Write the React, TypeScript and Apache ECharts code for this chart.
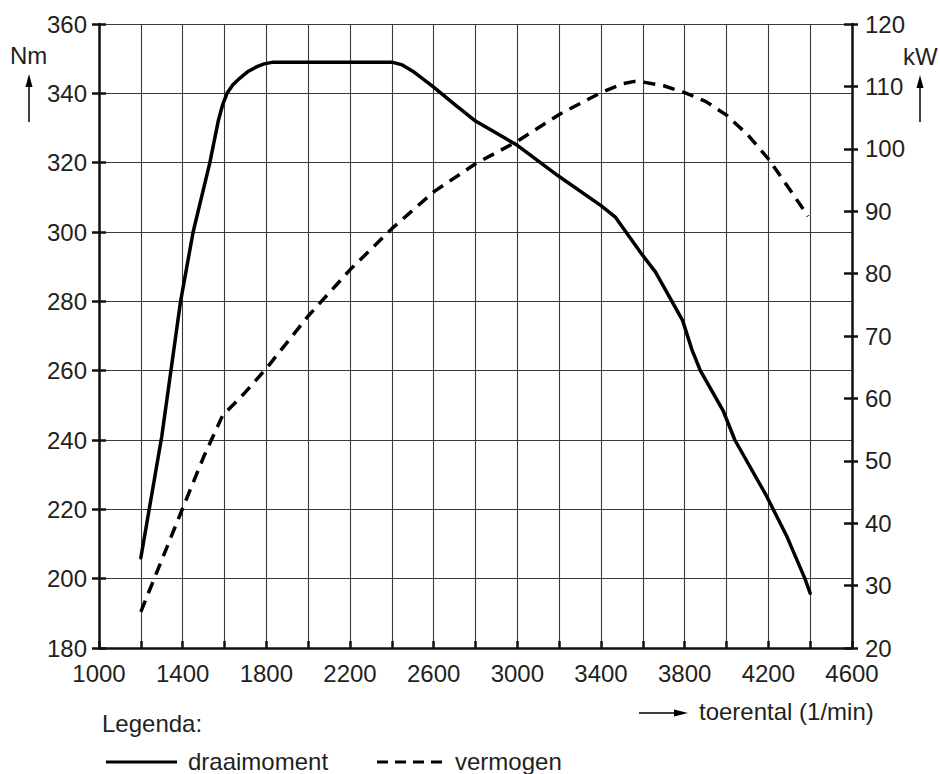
import React, { useEffect, useRef } from "react";
import * as echarts from "echarts";

const rpmTicks = { min: 1000, max: 4600, step: 200, labelStep: 400 };
const torqueAxis = { min: 180, max: 360, step: 20 };
const powerAxis = { min: 20, max: 120, step: 10 };

// draaimoment (Nm) vs toerental
const torqueRpm = [1200, 1300, 1390, 1450, 1530, 1570, 1590, 1612, 1640, 1674, 1710, 1755, 1790, 1833, 2400, 2450, 2500, 2600, 2700, 2800, 3000, 3200, 3400, 3470, 3590, 3660, 3790, 3835, 3875, 3985, 4040, 4190, 4290, 4375, 4400];
const torqueNm = [206, 241, 280, 300, 320, 332, 336.5, 340, 342.5, 344.4, 346.2, 347.7, 348.5, 349, 349, 348.2, 346.4, 341.8, 336.8, 332, 325, 316, 307.6, 304.2, 294, 288.5, 274.5, 266, 260, 248.3, 240, 224, 212, 200, 195.8];

// vermogen (kW) vs toerental
const powerRpm = [1200, 1300, 1400, 1500, 1590, 1700, 1800, 2000, 2200, 2400, 2600, 2800, 3000, 3200, 3400, 3500, 3560, 3600, 3700, 3800, 3900, 4000, 4100, 4200, 4300, 4390];
const powerKw = [25.8, 34.1, 42.4, 50.6, 57.2, 61, 64.8, 73.2, 80.6, 87.2, 93.1, 97.6, 101.2, 105.5, 109, 110.4, 110.8, 110.7, 110.1, 109, 107.6, 105.4, 102.3, 98.4, 93.6, 89.2];

const FONT = "'Liberation Sans', Arial, sans-serif";
const TXT = "#231f20";
const FS = 24;

export default function App() {
  const ref = useRef<HTMLDivElement>(null);
  useEffect(() => {
    if (!ref.current) return;
    const chart = echarts.init(ref.current, null, { renderer: "svg" });
    const labelStyle = { fontFamily: FONT, fontSize: FS, color: TXT };
    const txt = (text: string, left: number, top: number) => ({
      type: "text",
      left,
      top,
      style: { text, fontFamily: FONT, fontSize: FS, fill: TXT },
    });
    const option: any = {
      animation: false,
      backgroundColor: "#fff",
      grid: { left: 99, right: 88, top: 24, bottom: 126, containLabel: false },
      xAxis: {
        type: "value",
        min: rpmTicks.min,
        max: rpmTicks.max,
        interval: rpmTicks.step,
        axisLine: { show: true, lineStyle: { color: "#111", width: 2.5 } },
        axisTick: { show: true, inside: true, length: 7, lineStyle: { color: "#111", width: 2.5 } },
        axisLabel: {
          ...labelStyle,
          margin: 13,
          formatter: (v: number) => ((v - rpmTicks.min) % rpmTicks.labelStep === 0 ? String(v) : ""),
        },
        splitLine: { show: true, lineStyle: { color: "#3a3a3a", width: 1.1 } },
      },
      yAxis: [
        {
          type: "value",
          position: "left",
          min: torqueAxis.min,
          max: torqueAxis.max,
          interval: torqueAxis.step,
          axisLine: { show: true, lineStyle: { color: "#111", width: 2.5 } },
          axisTick: { show: true, inside: false, length: 7, lineStyle: { color: "#111", width: 2.5 } },
          axisLabel: { ...labelStyle, margin: 12 },
          splitLine: { show: true, lineStyle: { color: "#3a3a3a", width: 1.1 } },
        },
        {
          type: "value",
          position: "right",
          min: powerAxis.min,
          max: powerAxis.max,
          interval: powerAxis.step,
          axisLine: { show: true, lineStyle: { color: "#111", width: 2.5 } },
          axisTick: { show: true, inside: false, length: 6, lineStyle: { color: "#111", width: 2.5 } },
          axisLabel: { ...labelStyle, margin: 13 },
          splitLine: { show: false },
        },
        {
          type: "value",
          position: "left",
          min: torqueAxis.min,
          max: torqueAxis.max,
          interval: torqueAxis.step,
          axisLine: { show: false },
          axisTick: { show: true, inside: true, length: 7, lineStyle: { color: "#111", width: 2.5 } },
          axisLabel: { show: false },
          splitLine: { show: false },
        },
        {
          type: "value",
          position: "right",
          min: powerAxis.min,
          max: powerAxis.max,
          interval: powerAxis.step,
          axisLine: { show: false },
          axisTick: { show: true, inside: true, length: 8, lineStyle: { color: "#111", width: 2.5 } },
          axisLabel: { show: false },
          splitLine: { show: false },
        },
      ],
      series: [
        {
          name: "draaimoment",
          type: "line",
          yAxisIndex: 0,
          data: torqueRpm.map((r, i) => [r, torqueNm[i]]),
          showSymbol: false,
          symbol: "none",
          smooth: false,
          lineStyle: { color: "#000", width: 3.5, join: "round", cap: "round" },
          z: 5,
        },
        {
          name: "vermogen",
          type: "line",
          yAxisIndex: 1,
          data: powerRpm.map((r, i) => [r, powerKw[i]]),
          showSymbol: false,
          symbol: "none",
          smooth: false,
          lineStyle: { color: "#000", width: 3.5, type: [12, 8] },
          z: 5,
        },
      ],
      graphic: [
        txt("Nm", 10, 43),
        { type: "line", shape: { x1: 29, y1: 122, x2: 29, y2: 84 }, style: { stroke: "#000", lineWidth: 1.5 } },
        { type: "polygon", shape: { points: [[29, 74], [25.5, 87], [32.5, 87]] }, style: { fill: "#000" } },
        txt("kW", 903, 44),
        { type: "line", shape: { x1: 920, y1: 122, x2: 920, y2: 84 }, style: { stroke: "#000", lineWidth: 1.5 } },
        { type: "polygon", shape: { points: [[920, 75], [916.5, 88], [923.5, 88]] }, style: { fill: "#000" } },
        { type: "line", shape: { x1: 639, y1: 713, x2: 678, y2: 713 }, style: { stroke: "#000", lineWidth: 1.5 } },
        { type: "polygon", shape: { points: [[688, 713], [674, 709.5], [674, 716.5]] }, style: { fill: "#000" } },
        txt("toerental (1/min)", 699, 699),
        txt("Legenda:", 102, 711),
        { type: "line", shape: { x1: 106, y1: 762, x2: 177, y2: 762 }, style: { stroke: "#000", lineWidth: 3 } },
        txt("draaimoment", 188, 749),
        { type: "line", shape: { x1: 377, y1: 762, x2: 445, y2: 762 }, style: { stroke: "#000", lineWidth: 3, lineDash: [11, 7] } },
        txt("vermogen", 455, 749),
      ],
    };
    chart.setOption(option);
    return () => chart.dispose();
  }, []);
  return <div ref={ref} style={{ width: 940, height: 774, position: "absolute", left: 0, top: 0 }} />;
}
